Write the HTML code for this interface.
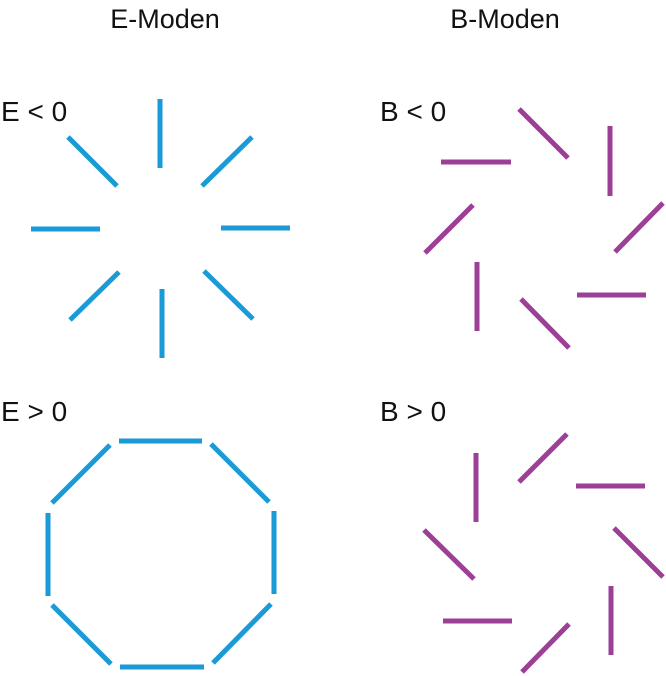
<!DOCTYPE html>
<html><head><style>
html,body{margin:0;padding:0;background:#fff;}
svg{display:block;}
text{font-family:"Liberation Sans",sans-serif;fill:#111;}
</style></head><body>
<svg width="666" height="676" viewBox="0 0 666 676" xmlns="http://www.w3.org/2000/svg">
<text x="165" y="28" font-size="27" text-anchor="middle">E-Moden</text>
<text x="505" y="28" font-size="27" text-anchor="middle">B-Moden</text>
<text x="1" y="121" font-size="28">E &lt; 0</text>
<text x="380" y="121" font-size="28">B &lt; 0</text>
<text x="1" y="421" font-size="28">E &gt; 0</text>
<text x="380" y="421" font-size="28">B &gt; 0</text>
<g stroke="#1a9ad6" stroke-width="5" fill="none">
<line x1="160" y1="99" x2="160" y2="168"/>
<line x1="202" y1="186" x2="252" y2="137"/>
<line x1="68" y1="137" x2="117" y2="186"/>
<line x1="31" y1="229" x2="100" y2="229"/>
<line x1="221" y1="228" x2="290" y2="228"/>
<line x1="70" y1="320" x2="119" y2="272"/>
<line x1="204" y1="271" x2="253" y2="319"/>
<line x1="162" y1="289" x2="162" y2="358"/>
<line x1="119" y1="441" x2="202" y2="441"/>
<line x1="120" y1="667" x2="204" y2="667"/>
<line x1="48" y1="513" x2="48" y2="596"/>
<line x1="274" y1="511" x2="274" y2="594"/>
<line x1="52" y1="503" x2="110" y2="445"/>
<line x1="211" y1="444" x2="269" y2="502"/>
<line x1="52" y1="605" x2="111" y2="664"/>
<line x1="213" y1="663" x2="271" y2="604"/>
</g>
<g stroke="#9b3f97" stroke-width="5" fill="none">
<line x1="519" y1="109" x2="568" y2="158"/>
<line x1="610" y1="126" x2="610" y2="196"/>
<line x1="441" y1="162" x2="511" y2="162"/>
<line x1="473" y1="205" x2="425" y2="253"/>
<line x1="663" y1="203" x2="615" y2="252"/>
<line x1="477" y1="262" x2="477" y2="331"/>
<line x1="577" y1="295" x2="646" y2="295"/>
<line x1="521" y1="299" x2="569" y2="348"/>
<line x1="476" y1="453" x2="476" y2="522"/>
<line x1="519" y1="482" x2="567" y2="434"/>
<line x1="576" y1="486" x2="645" y2="486"/>
<line x1="424" y1="530" x2="474" y2="579"/>
<line x1="614" y1="528" x2="663" y2="577"/>
<line x1="443" y1="621" x2="512" y2="621"/>
<line x1="522" y1="672" x2="569" y2="624"/>
<line x1="611" y1="586" x2="611" y2="655"/>
</g>
</svg>
</body></html>
